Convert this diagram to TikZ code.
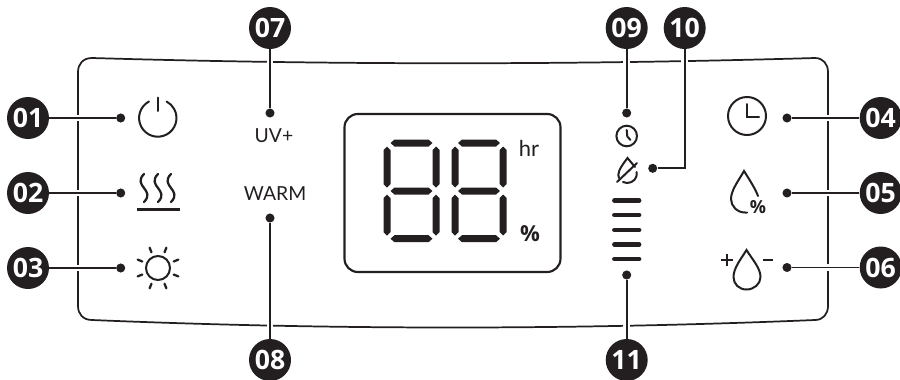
\documentclass[tikz,border=0pt]{standalone}
\usepackage{fontspec}
\setmainfont{Lato}
\newfontfamily\numfont{Open Sans}
\usepackage{xcolor}
\usepackage{tikz}
\usetikzlibrary{arrows.meta,positioning,calc}
\definecolor{ink}{HTML}{231F20}

% one LCD segment, lying or standing, at its centre
\newcommand{\hseg}[2]{\fill[ink] ({#1-21},#2) -- ({#1-17},{#2-3.5}) -- ({#1+17},{#2-3.5}) -- ({#1+21},#2) -- ({#1+17},{#2+3.5}) -- ({#1-17},{#2+3.5}) -- cycle;}
\newcommand{\vseg}[2]{\fill[ink] (#1,{#2-20.5}) -- ({#1+3.5},{#2-17}) -- ({#1+3.5},{#2+17}) -- (#1,{#2+20.5}) -- ({#1-3.5},{#2+17}) -- ({#1-3.5},{#2-17}) -- cycle;}

\begin{document}
\begin{tikzpicture}[
  x=0.75pt, y=-0.75pt,
  badge/.style={circle, fill=ink, text=white, inner sep=0pt, minimum size=31.5pt, font=\numfont\bfseries\fontsize{20}{21}\selectfont},
  leadend/.style={circle, fill=ink, inner sep=0pt, minimum size=6.8pt},
  leader/.style={draw=ink, line width=1.4pt, preaction={draw=white, line width=5pt}},
  panel/.style={draw=ink, line width=1.3pt},
  icon/.style={draw=ink, line width=1.5pt, line cap=round},
  level/.style={draw=ink, line width=3.6pt, line cap=round},
  label/.style={text=ink, inner sep=0pt, font=\fontsize{14.5}{16}\selectfont},
  unit/.style={text=ink, inner sep=0pt, font=\numfont\bfseries\fontsize{16.5}{18}\selectfont}
]
\useasboundingbox (0,0) rectangle (900,379);

% panel outline
\draw[panel] (78,72) .. controls (78,64) and (83,58) .. (92,58)
  .. controls (332,65) and (573,65) .. (815,58)
  .. controls (823,58) and (828,64) .. (828,72)
  -- (828,306) .. controls (828,314) and (823,320) .. (815,320)
  .. controls (573,330) and (332,330) .. (92,320)
  .. controls (83,320) and (78,314) .. (78,306) -- cycle;

% numbered badges
\node[badge] (b01) at (28,118) {01};
\node[badge] (b02) at (28,193) {02};
\node[badge] (b03) at (28,268) {03};
\node[badge] (b04) at (880.7,118) {04};
\node[badge] (b05) at (880.7,193) {05};
\node[badge] (b06) at (880.7,267.5) {06};
\node[badge] (b07) at (270,28) {07};
\node[badge] (b08) at (270,360) {08};
\node[badge] (b09) at (626.7,28) {09};
\node[badge] (b10) at (684.7,28) {10};
\node[badge] (b11) at (626.7,360) {11};

% leader ends
\node[leadend] (d01) at (120.7,118) {};
\node[leadend] (d02) at (120.7,193) {};
\node[leadend] (d03) at (120.7,268) {};
\node[leadend] (d04) at (787,118) {};
\node[leadend] (d05) at (787,193) {};
\node[leadend] (d06) at (787,267.5) {};
\node[leadend] (d07) at (270,113) {};
\node[leadend] (d08) at (270,218) {};
\node[leadend] (d09) at (626.7,113) {};
\node[leadend] (d10) at (652.7,168.3) {};
\node[leadend] (d11) at (626.7,275) {};

% labels
\node[label] (uv) at (274,136) {UV+};
\node[label] (warm) at (275,194) {WARM};
\node[label, font=\fontsize{16.5}{18}\selectfont] (hr) at (529,148) {hr};
\node[unit] (pct) at (530,234) {\%};
\node[unit, font=\numfont\bfseries\fontsize{13.5}{15}\selectfont] (hum) at (758,207) {\%};

% leaders
\foreach \n in {01,02,03,04,05,06,07,08,09,11}
  \draw[leader] (b\n) -- (d\n);
\draw[leader] (b10) |- (d10);

% power
\draw[icon] (149,101.5) arc (-118:-422:18.7);
\draw[icon] (158,97.5) -- (158,111);

% heat
\foreach \x in {145,159,172}
  \draw[icon, line width=1.7pt] (\x-1,174) .. controls (\x-13,186) and (\x+11,190) .. (\x-1,202);
\draw[icon, line cap=butt, line width=1.9pt] (137,209.5) -- (180,209.5);

% sun
\draw[icon] (158,268) circle (12);
\foreach \a in {22.5,67.5,...,337.5}
  \draw[icon, line width=1.7pt] ($(158,268)+(\a:17)$) -- ($(158,268)+(\a:22)$);

% display
\draw[ink, line width=1.6pt, rounded corners=10pt] (344.5,114) rectangle (560.5,272);
\foreach \x in {411.5,479}
  \foreach \y in {143,191,238.7}
    {\hseg{\x}{\y}}
\foreach \x in {387,436,455,503}
  \foreach \y in {167,215}
    {\vseg{\x}{\y}}

% small clock
\draw[icon] (626.7,136) circle (10.3);
\draw[icon] (626.7,130) -- (627.3,136.5) -- (630.5,140);

% no-refill drop
\draw[icon] (619,178) .. controls (617,174) and (619,169) .. (627.5,158) -- (635,167);
\draw[icon] (636.5,172) .. controls (638,178) and (633,183) .. (627,183) -- (623,182);
\draw[icon] (617,182) -- (637,163);

% level bars
\foreach \y in {200.7,215,230,244.6,259}
  \draw[level] (614.5,\y) -- (639,\y);

% clock
\draw[icon] (747,116) circle (19);
\draw[icon] (747,104) -- (747,116.5) -- (759,116.5);

% humidity drop
\draw[icon] (747,212.5) -- (745,212.5) .. controls (737,212.5) and (731,206) .. (731,199)
  .. controls (731,190) and (739,180) .. (744,171) .. controls (749,179) and (755,188) .. (758,196);

% adjust drop
\draw[icon] (746.5,250) .. controls (741,259) and (733.5,268) .. (733.5,277)
  .. controls (733.5,284) and (739,289.5) .. (746.5,289.5)
  .. controls (754,289.5) and (760.5,284) .. (760.5,277)
  .. controls (760.5,268) and (752,259) .. (746.5,250) -- cycle;
\draw[icon, line cap=butt, line width=1.9pt] (721,260) -- (733,260);
\draw[icon, line cap=butt, line width=1.9pt] (727,254) -- (727,266);
\draw[icon, line cap=butt, line width=1.9pt] (763,260) -- (773,260);

\end{tikzpicture}
\end{document}
